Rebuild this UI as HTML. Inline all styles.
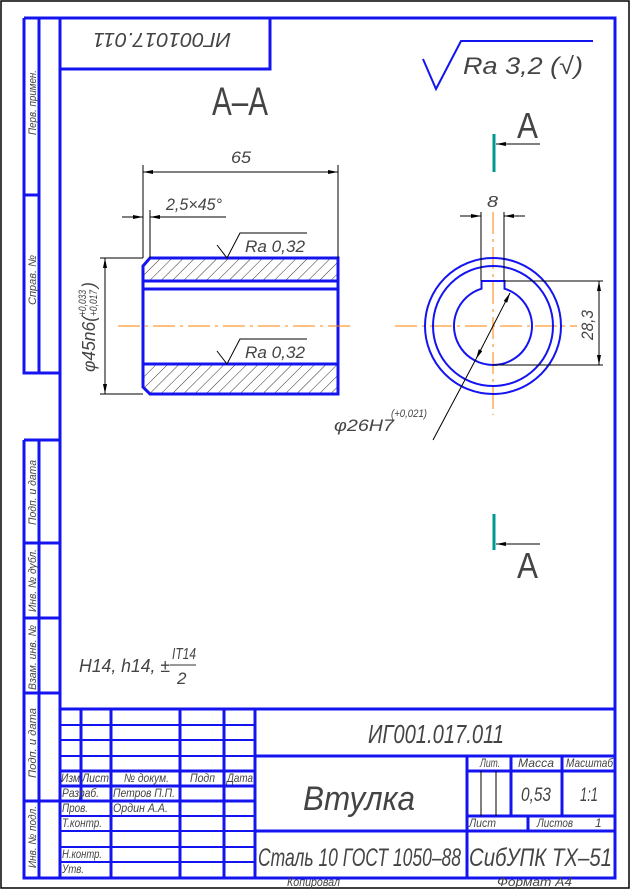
<!DOCTYPE html>
<html><head><meta charset="utf-8"><style>
html,body{margin:0;padding:0;background:#fff;}
svg{display:block;}
text{font-family:"Liberation Sans",sans-serif;font-style:italic;fill:#444;}
.b{stroke:#1414f0;fill:none;stroke-width:3;}
.t{stroke:#1414f0;fill:none;stroke-width:2;}
.k{stroke:#000;fill:none;stroke-width:1;}
.o{stroke:#ff8000;fill:none;stroke-width:1;stroke-dasharray:22 5 3 5;}
</style></head><body>
<svg width="632" height="894" viewBox="0 0 632 894" xmlns="http://www.w3.org/2000/svg">
<defs>
<pattern id="h" width="8" height="8" patternUnits="userSpaceOnUse" patternTransform="rotate(45)">
<line x1="0" y1="0" x2="0" y2="8" stroke="#000" stroke-width="0.8"/>
</pattern>
<marker id="ar" viewBox="0 0 10 4" refX="10" refY="2" markerWidth="10" markerHeight="4" orient="auto-start-reverse" markerUnits="userSpaceOnUse">
<path d="M0,0 L10,2 L0,4 z" fill="#000"/></marker>
</defs>
<rect x="1" y="1" width="628" height="887" fill="none" stroke="#000" stroke-width="1.5"/>
<rect x="60" y="18" width="555" height="860" class="b"/>
<path class="b" d="M24,18 H60 M24,18 V373 H60 M39,18 V373 M24,195 H39"/>
<path class="b" d="M24,440 H60 V878 M24,440 V878 H60 M39,440 V878 M24,543 H60 M24,618 H60 M24,693 H60 M24,801 H60"/>
<path class="b" d="M60,69 H270 V18"/>
<text transform="translate(231,30) rotate(180)" font-size="20" textLength="138" lengthAdjust="spacingAndGlyphs" y="-3">ИГ001017.011</text>
<g font-size="11">
<text transform="translate(36,135) rotate(-90)" textLength="65" lengthAdjust="spacingAndGlyphs">Перв. примен.</text>
<text transform="translate(36,305) rotate(-90)" textLength="50" lengthAdjust="spacingAndGlyphs">Справ. №</text>
<text transform="translate(36,525) rotate(-90)" textLength="65" lengthAdjust="spacingAndGlyphs">Подп. и дата</text>
<text transform="translate(36,612) rotate(-90)" textLength="63" lengthAdjust="spacingAndGlyphs">Инв. № дубл.</text>
<text transform="translate(36,690) rotate(-90)" textLength="65" lengthAdjust="spacingAndGlyphs">Взам. инв. №</text>
<text transform="translate(36,778) rotate(-90)" textLength="70" lengthAdjust="spacingAndGlyphs">Подп. и дата</text>
<text transform="translate(36,868) rotate(-90)" textLength="62" lengthAdjust="spacingAndGlyphs">Инв. № подл.</text>
</g>
<path d="M423,59 L436,89 L461,41 H593" stroke="#1414f0" stroke-width="2" fill="none"/>
<text x="463" y="74" font-size="24" textLength="120" lengthAdjust="spacingAndGlyphs">Ra 3,2 (√)</text>
<text x="212" y="115" font-size="40" style="font-style:normal" fill="#000" textLength="56" lengthAdjust="spacingAndGlyphs">A–A</text>
<line x1="494" y1="134" x2="494" y2="172" stroke="#00998f" stroke-width="3"/>
<line x1="540" y1="144" x2="496" y2="144" class="k" marker-end="url(#ar)"/>
<text x="517" y="138" font-size="36" style="font-style:normal" fill="#000" textLength="21" lengthAdjust="spacingAndGlyphs">A</text>
<line x1="494" y1="514" x2="494" y2="550" stroke="#00998f" stroke-width="3"/>
<line x1="540" y1="544" x2="496" y2="544" class="k" marker-end="url(#ar)"/>
<text x="517" y="578" font-size="36" style="font-style:normal" fill="#000" textLength="21" lengthAdjust="spacingAndGlyphs">A</text>
<path d="M150,258 H338 V281 H143 V266 Z" fill="url(#h)"/>
<path d="M143,364 H338 V394 H150 L143,387 Z" fill="url(#h)"/>
<path class="b" d="M150,258 H338 V394 H150 L143,387 V266 Z"/>
<path class="b" d="M143,281 H338 M143,289 H338 M143,364 H338"/>
<line x1="118" y1="326" x2="352" y2="326" class="o"/>
<path class="k" d="M143,258 V165 M338,258 V165"/>
<line x1="143" y1="172" x2="338" y2="172" class="k" marker-start="url(#ar)" marker-end="url(#ar)"/>
<text x="231" y="163" font-size="17" textLength="20" lengthAdjust="spacingAndGlyphs">65</text>
<path class="k" d="M150,258 V210"/>
<line x1="122" y1="217" x2="143" y2="217" class="k" marker-end="url(#ar)"/>
<line x1="226" y1="217" x2="150" y2="217" class="k" marker-end="url(#ar)"/>
<text x="166" y="210" font-size="17" textLength="56" lengthAdjust="spacingAndGlyphs">2,5×45°</text>
<path class="k" d="M217,245 L227,258 L240,233 H307 M217,351 L227,364 L240,339 H307"/>
<text x="245" y="252" font-size="17" textLength="60" lengthAdjust="spacingAndGlyphs">Ra 0,32</text>
<text x="245" y="358" font-size="17" textLength="60" lengthAdjust="spacingAndGlyphs">Ra 0,32</text>
<path class="k" d="M100,258 H143 M100,394 H143"/>
<line x1="105" y1="258" x2="105" y2="394" class="k" marker-start="url(#ar)" marker-end="url(#ar)"/>
<text transform="translate(95,372) rotate(-90)" font-size="18" textLength="56" lengthAdjust="spacingAndGlyphs">φ45n6(</text>
<text transform="translate(86,316) rotate(-90)" font-size="11" textLength="26" lengthAdjust="spacingAndGlyphs">+0,033</text>
<text transform="translate(97,316) rotate(-90)" font-size="11" textLength="26" lengthAdjust="spacingAndGlyphs">+0,017</text>
<text transform="translate(95,288) rotate(-90)" font-size="18">)</text>
<line x1="395" y1="326" x2="577" y2="326" class="o"/>
<line x1="493" y1="212" x2="493" y2="415" class="o"/>
<circle cx="493" cy="326" r="68" class="t"/>
<circle cx="493" cy="326" r="60" class="t"/>
<path class="t" d="M504.5,288.7 A39,39 0 1 1 481.5,288.7 V281 H504.5 Z"/>
<path class="k" d="M481,281 V212 M504,281 V212"/>
<line x1="460" y1="216" x2="481" y2="216" class="k" marker-end="url(#ar)"/>
<line x1="525" y1="216" x2="504" y2="216" class="k" marker-end="url(#ar)"/>
<text x="487" y="207" font-size="16" textLength="11" lengthAdjust="spacingAndGlyphs">8</text>
<path class="k" d="M504,281 H603 M493,365 H603"/>
<line x1="599" y1="281" x2="599" y2="365" class="k" marker-start="url(#ar)" marker-end="url(#ar)"/>
<text transform="translate(593,340) rotate(-90)" font-size="17" textLength="30" lengthAdjust="spacingAndGlyphs">28,3</text>
<line x1="476" y1="359" x2="510" y2="293" class="k" marker-start="url(#ar)" marker-end="url(#ar)"/>
<line x1="476" y1="359" x2="433" y2="440" class="k"/>
<text x="334" y="431" font-size="17" textLength="60" lengthAdjust="spacingAndGlyphs">φ26H7</text>
<text x="391" y="417" font-size="11" textLength="36" lengthAdjust="spacingAndGlyphs">(+0,021)</text>
<text x="79" y="672" font-size="18" textLength="91" lengthAdjust="spacingAndGlyphs">H14, h14, ±</text>
<text x="172" y="659" font-size="16" textLength="24" lengthAdjust="spacingAndGlyphs">IT14</text>
<line x1="170" y1="665" x2="196" y2="665" stroke="#333" stroke-width="1"/>
<text x="177" y="684" font-size="17">2</text>
<path class="b" d="M60,709 H615"/>
<path class="t" d="M60,725 H255 M60,740 H255 M60,756 H255 M60,816 H255 M60,831 H255 M60,847 H255 M60,862 H255"/>
<path class="b" d="M60,771 H255 M60,786 H255 M60,801 H255"/>
<path class="b" d="M81,709 V801 M111,709 V878 M180,709 V878 M224,709 V878 M255,709 V878"/>
<path class="b" d="M255,756 H615 M255,831 H615 M467,756 V878 M467,771 H615 M511,756 V816 M562,756 V816 M467,816 H615 M528,816 V831"/>
<path class="k" d="M481,771 V816 M496,771 V816"/>
<g font-size="12">
<text x="61" y="782" textLength="19" lengthAdjust="spacingAndGlyphs">Изм</text>
<text x="82" y="782" textLength="27" lengthAdjust="spacingAndGlyphs">Лист</text>
<text x="124" y="782" textLength="45" lengthAdjust="spacingAndGlyphs">№ докум.</text>
<text x="190" y="782" textLength="25" lengthAdjust="spacingAndGlyphs">Подп</text>
<text x="227" y="782" textLength="26" lengthAdjust="spacingAndGlyphs">Дата</text>
<text x="62" y="797" textLength="37" lengthAdjust="spacingAndGlyphs">Разраб.</text>
<text x="113" y="797" textLength="62" lengthAdjust="spacingAndGlyphs">Петров П.П.</text>
<text x="62" y="812" textLength="26" lengthAdjust="spacingAndGlyphs">Пров.</text>
<text x="113" y="812" textLength="55" lengthAdjust="spacingAndGlyphs">Ордин А.А.</text>
<text x="62" y="827" textLength="40" lengthAdjust="spacingAndGlyphs">Т.контр.</text>
<text x="62" y="858" textLength="40" lengthAdjust="spacingAndGlyphs">Н.контр.</text>
<text x="62" y="873" textLength="22" lengthAdjust="spacingAndGlyphs">Утв.</text>
<text x="480" y="767" textLength="20" lengthAdjust="spacingAndGlyphs">Лит.</text>
<text x="518" y="767" textLength="36" lengthAdjust="spacingAndGlyphs">Масса</text>
<text x="566" y="767" textLength="47" lengthAdjust="spacingAndGlyphs">Масштаб</text>
<text x="469" y="827" textLength="27" lengthAdjust="spacingAndGlyphs">Лист</text>
<text x="537" y="827" textLength="36" lengthAdjust="spacingAndGlyphs">Листов</text>
<text x="595" y="827">1</text>
<text x="287" y="886" textLength="53" lengthAdjust="spacingAndGlyphs">Копировал</text>
<text x="497" y="886" textLength="75" lengthAdjust="spacingAndGlyphs">Формат    А4</text>
</g>
<text x="368" y="743" font-size="26" textLength="136" lengthAdjust="spacingAndGlyphs">ИГ001.017.011</text>
<text x="303" y="810" font-size="34" textLength="112" lengthAdjust="spacingAndGlyphs">Втулка</text>
<text x="521" y="801" font-size="19" textLength="30" lengthAdjust="spacingAndGlyphs">0,53</text>
<text x="580" y="801" font-size="19" textLength="18" lengthAdjust="spacingAndGlyphs">1:1</text>
<text x="258" y="866" font-size="25" textLength="203" lengthAdjust="spacingAndGlyphs">Сталь 10  ГОСТ 1050–88</text>
<text x="469" y="866" font-size="25" textLength="143" lengthAdjust="spacingAndGlyphs">СибУПК ТХ–51</text>
</svg>
</body></html>
